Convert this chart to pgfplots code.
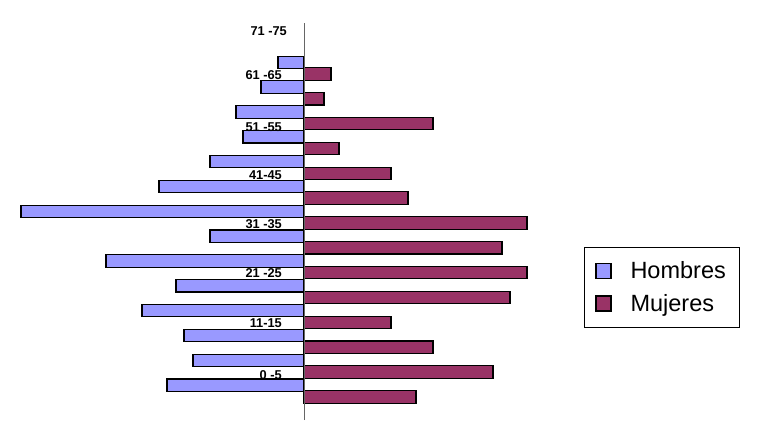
\documentclass[border=0pt]{standalone}
\usepackage{fontspec}
\setmainfont{Liberation Sans}
\usepackage{pgfplots}
\pgfplotsset{compat=1.18}
\definecolor{hom}{HTML}{9999FF}
\definecolor{muj}{HTML}{993366}
\begin{document}
\begin{tikzpicture}
\useasboundingbox (0,0) rectangle (760pt,440pt);
\begin{axis}[
  at={(14pt,20pt)}, anchor=south west,
  scale only axis, width=530pt, height=397pt,
  xmin=-290, xmax=240, ymin=-0.93, ymax=15.05,
  axis x line=none, axis y line*=middle,
  axis line style={gray!80!black, line width=0.8pt},
  axis on top,
  major tick length=0pt,
  ytick={0.87,2.97,4.98,6.96,8.93,10.85,12.96},
  yticklabels={0 -5,11-15,21 -25,31 -35,41-45,51 -55,61 -65},
  yticklabel style={anchor=east, inner sep=0pt, xshift=-22pt, font=\bfseries\fontsize{12.8}{14}\selectfont},
  extra y ticks={14.73},
  extra y tick labels={71 -75},
  extra y tick style={yticklabel style={xshift=5pt}},
  xbar, bar width=12.4pt,
  legend style={at={(1.0755,0.4358)}, anchor=north west, draw=black, line width=0.6pt,
    font=\fontsize{23.5}{26}\selectfont, inner xsep=11pt, inner ysep=12.5pt, row sep=10pt,
    /tikz/every odd column/.append style={column sep=17pt}},
  legend cell align=left,
  legend image code/.code={\draw[#1, line width=1.2pt] (0pt,-7.5pt) rectangle (15pt,7.5pt);},
]
\addplot[xbar, bar shift=0pt, fill=hom, draw=black, line width=1.1pt] coordinates {
(-137,0.47) (-111,1.47) (-120,2.47) (-162,3.47) (-128,4.47) (-198,5.47) (-94,6.47)
(-283,7.47) (-145,8.47) (-94,9.47) (-61,10.47) (-68,11.47) (-43,12.47) (-26,13.47)};
\addlegendentry{Hombres}
\addplot[xbar, bar shift=0pt, fill=muj, draw=black, line width=1.1pt] coordinates {
(112,0) (189,1) (129,2) (87,3) (206,4) (223,5) (198,6)
(223,7) (104,8) (87,9) (35,10) (129,11) (20,12) (27,13)};
\addlegendentry{Mujeres}
\end{axis}
\end{tikzpicture}
\end{document}
